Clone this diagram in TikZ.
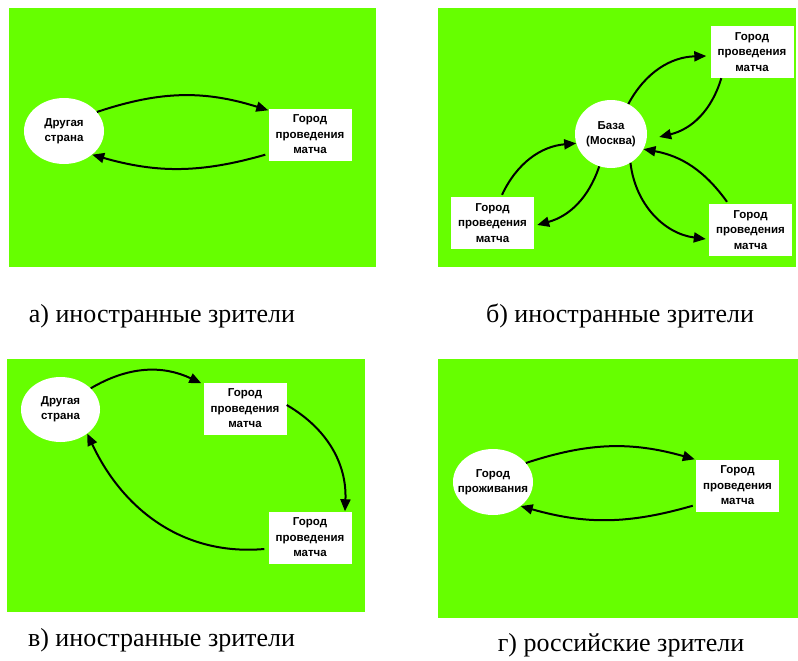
\documentclass[tikz,border=0pt]{standalone}
\usepackage{fontspec}
\setmainfont{Liberation Serif}
\newfontfamily\labelfont{Liberation Sans}
\usepackage{tikz}
\usetikzlibrary{shapes.geometric}
\usetikzlibrary{arrows.meta}
\definecolor{fieldgreen}{RGB}{102,255,0}

\begin{document}
\begin{tikzpicture}[x=1pt,y=1pt,
  field/.style={fill=fieldgreen},
  home/.style={ellipse,fill=white,inner sep=0pt,align=center,
    font=\labelfont\bfseries\fontsize{11.5}{15}\selectfont},
  city/.style={rectangle,fill=white,inner sep=0pt,align=center,
    minimum width=83pt,minimum height=52pt,
    font=\labelfont\bfseries\fontsize{11.5}{15.5}\selectfont},
  trip/.style={line width=2pt,-{Triangle[length=12pt,width=10pt]}},
  caption/.style={anchor=base,font=\fontsize{26}{30}\selectfont}]
\useasboundingbox (0,0) rectangle (798,-661);

% panel a
\fill[field] (9,-8) rectangle (376,-267);
\node[home,minimum width=80pt,minimum height=66pt] (a0) at (64,-131) {Другая\\страна};
\node[city] (a1) at (310,-134.5) {Город\\проведения\\матча};
\draw[trip] (a0.30) to[bend left=18] ([yshift=-2pt]a1.north west);
\draw[trip] ([xshift=-3pt,yshift=6pt]a1.south west) to[bend left=16] (a0.-40);
\node[caption] (capa) at (162,-322) {а) иностранные зрители};

% panel b
\fill[field] (438,-8) rectangle (796,-267);
\node[home,minimum width=72pt,minimum height=68pt] (b0) at (611,-134) {База\\(Москва)};
\node[city] (b1) at (752,-52) {Город\\проведения\\матча};
\node[city] (b2) at (492.5,-223) {Город\\проведения\\матча};
\node[city] (b3) at (750.5,-230) {Город\\проведения\\матча};
\draw[trip] (b0.60) to[bend left=30] ([xshift=-4pt,yshift=-4pt]b1.west);
\draw[trip] ([xshift=11pt]b1.south west) to[bend left=30] ([xshift=12pt,yshift=-3pt]b0.east);
\draw[trip] ([xshift=9.5pt,yshift=2pt]b2.north) to[bend left=30] (b0.195);
\draw[trip] (b0.250) to[bend left=28] ([xshift=3pt,yshift=-2pt]b2.east);
\draw[trip] (b0.-56) to[bend right=38] ([xshift=-3pt,yshift=-9pt]b3.west);
\draw[trip] ([xshift=-23.5pt,yshift=2pt]b3.north) to[bend right=22] (b0.-25);
\node[caption] (capb) at (620,-322) {б) иностранные зрители};

% panel c
\fill[field] (7,-359) rectangle (365,-612);
\node[home,minimum width=79pt,minimum height=65pt] (c0) at (60.5,-409.5) {Другая\\страна};
\node[city] (c1) at (245,-408.5) {Город\\проведения\\матча};
\node[city] (c2) at (310,-537.5) {Город\\проведения\\матча};
\draw[trip] (c0.35) to[bend left=28] ([xshift=-2pt,yshift=-1pt]c1.north west);
\draw[trip] ([yshift=3.5pt]c1.east) to[bend left=31] ([xshift=35pt]c2.north);
\draw[trip] ([xshift=-4pt,yshift=-11.5pt]c2.west) to[out=185,in=-65] (c0.-42);
\node[caption] (capc) at (161.5,-646) {в) иностранные зрители};

% panel d
\fill[field] (438,-359) rectangle (798,-618);
\node[home,inner xsep=-7pt,minimum width=80pt,minimum height=66pt] (d0) at (493,-482) {Город\\проживания};
\node[city] (d1) at (737.5,-485.5) {Город\\проведения\\матча};
\draw[trip] (d0.30) to[bend left=17] ([xshift=-1pt]d1.north west);
\draw[trip] ([xshift=-3pt,yshift=6pt]d1.south west) to[bend left=16] (d0.-41);
\node[caption] (capd) at (621,-651) {г) российские зрители};
\end{tikzpicture}
\end{document}
